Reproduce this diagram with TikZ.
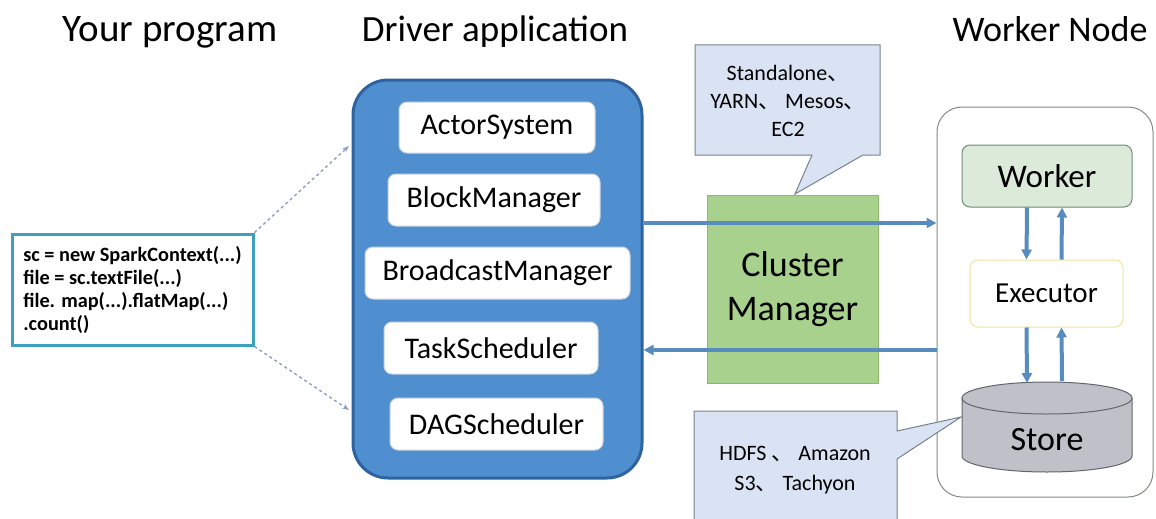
\documentclass[tikz,border=0pt]{standalone}
\usepackage{fontspec}
\setmainfont{Carlito}
\newfontfamily\cjkfont{Noto Sans CJK SC}
\usepackage{tikz}
\usetikzlibrary{arrows.meta, positioning}
\definecolor{drvfill}{RGB}{79,143,207}
\definecolor{drvline}{RGB}{46,99,160}
\definecolor{partline}{RGB}{200,210,225}
\definecolor{flowblue}{RGB}{88,140,190}
\definecolor{dashblue}{RGB}{140,160,190}
\definecolor{progline}{RGB}{60,160,190}
\definecolor{cmfill}{RGB}{169,209,142}
\definecolor{cmline}{RGB}{140,185,110}
\definecolor{notefill}{RGB}{218,227,243}
\definecolor{noteline}{RGB}{120,130,140}
\definecolor{wkfill}{RGB}{220,234,218}
\definecolor{wkline}{RGB}{110,140,120}
\definecolor{exline}{RGB}{240,228,160}
\definecolor{stfill}{RGB}{192,192,200}
\definecolor{stline}{RGB}{100,100,110}
\definecolor{wnline}{RGB}{130,140,130}

\begin{document}
\begin{tikzpicture}[x=1pt, y=-1pt, >={Triangle[length=10pt,width=10pt]},
    title/.style={font=\fontsize{37}{40}\selectfont, anchor=base},
    part/.style={draw=partline, fill=white, rounded corners=8, line width=1, font=\fontsize{30}{32}\selectfont},
    flow/.style={->, draw=flowblue, line width=4},
    link/.style={->, draw=dashblue, dashed, line width=1.4, >={Stealth[length=7pt]}},
    note/.style={align=center, font=\fontsize{22}{28}\selectfont}]
        \useasboundingbox (0,0) rectangle (1156,519);

        % Titles
        \node[title, font=\fontsize{39}{40}\selectfont] (tprog) at (170,42) {Your program};
        \node[title] (tdrv) at (495,42) {Driver application};
        \node[title, font=\fontsize{36}{40}\selectfont] (twn) at (1050,42) {Worker Node};

        % Program
        \node[draw=progline, line width=3, fill=white, align=left, minimum width=241,
              minimum height=111, font=\bfseries\fontsize{20.3}{23}\selectfont] (prog) at (132.5,289.5)
              {sc = new SparkContext(...)\\file = sc.textFile(...)\\file. map(...).flatMap(...)\\.count()};

        % Driver application
        \node[draw=drvline, fill=drvfill, line width=3, rounded corners=35, minimum width=289, minimum height=398] (drv) at (497.5,279) {};
        \node[part, minimum width=196, minimum height=51] (actor) at (497,127.5) {ActorSystem};
        \node[part, minimum width=212, minimum height=52] (block) at (494,200) {BlockManager};
        \node[part, minimum width=265, minimum height=52] (bcast) at (497.5,273) {BroadcastManager};
        \node[part, minimum width=214, minimum height=52] (task) at (491,348) {TaskScheduler};
        \node[part, minimum width=213, minimum height=52] (dag) at (496.5,424) {DAGScheduler};

        % Cluster manager
        \node[draw=cmline, fill=cmfill, line width=1, minimum width=171, minimum height=188, align=center,
              font=\fontsize{36}{44}\selectfont] (cm) at (792.5,289) {Cluster\\Manager};

        % Worker node
        \node[draw=wnline, fill=white, line width=1, rounded corners=25, minimum width=216, minimum height=390] (wn) at (1045,302) {};
        \node[draw=wkline, fill=wkfill, line width=1, rounded corners=8, minimum width=170, minimum height=62,
              font=\fontsize{33}{36}\selectfont] (wk) at (1047,176) {Worker};
        \node[draw=exline, fill=white, line width=1, rounded corners=8, minimum width=153, minimum height=67,
              font=\fontsize{29}{32}\selectfont] (ex) at (1046.5,293.5) {Executor};

        % Store
        \filldraw[fill=stfill, draw=stline, line width=1] (962,398) -- (962,456)
            arc[start angle=180, end angle=0, x radius=85, y radius=16] -- (1132,398);
        \filldraw[fill=stfill, draw=stline, line width=1] (1047,398) ellipse [x radius=85, y radius=16];
        \node[font=\fontsize{34}{36}\selectfont] (st) at (1047,440) {Store};
        \coordinate (sttop) at (1047,383);

        % Callouts
        \filldraw[fill=notefill, draw=noteline, line width=1] (695,45) -- (880,45) -- (880,155) -- (863,155)
            -- (795,194) -- (812,155) -- (695,155) -- cycle;
        \node[note] (cmnote) at (788,101) {Standalone{\cjkfont 、}\\YARN{\cjkfont 、} Mesos{\cjkfont 、}\\EC2};
        \fill[notefill] (694,519) -- (694,411) -- (897,411) -- (897,431) -- (961,417) -- (897,459) -- (897,519) -- cycle;
        \draw[noteline, line width=1] (694,519) -- (694,411) -- (897,411) -- (897,431) -- (961,417) -- (897,459) -- (897,519);
        \node[note, font=\fontsize{22}{30}\selectfont] (stnote) at (795,470) {HDFS {\cjkfont 、} Amazon\\S3{\cjkfont 、} Tachyon};

        % Directed edges
        \coordinate (d1) at (349,146);
        \coordinate (d2) at (349,410);
        \draw[link] (prog.north east) -- (d1);
        \draw[link] (prog.south east) -- (d2);
        \draw[flow] ([yshift=56]drv.east) -- ([yshift=56]drv.east -| wn.west);
        \draw[flow] ([yshift=-71]drv.east -| wn.west) -- ([yshift=-71]drv.east);
        \draw[flow] ([xshift=-20]wk.south) -- ([xshift=-20]ex.north);
        \draw[flow] ([xshift=15]ex.north) -- ([xshift=15]wk.south);
        \draw[flow] ([xshift=-20]ex.south) -- ([xshift=-20]sttop);
        \draw[flow] ([xshift=15,yshift=2]sttop) -- ([xshift=15]ex.south);
    \end{tikzpicture}
\end{document}
